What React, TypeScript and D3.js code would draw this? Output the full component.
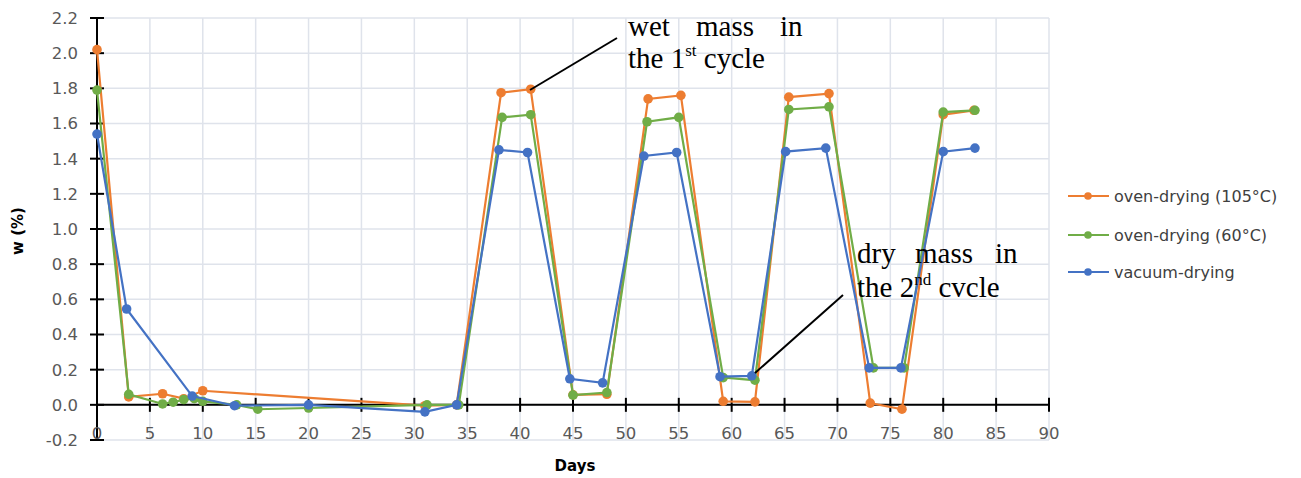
import React from "react";
import * as d3 from "d3";

const xTicks = [0, 5, 10, 15, 20, 25, 30, 35, 40, 45, 50, 55, 60, 65, 70, 75, 80, 85, 90];
const yTicks = [-0.2, 0, 0.2, 0.4, 0.6, 0.8, 1.0, 1.2, 1.4, 1.6, 1.8, 2.0, 2.2];

const orangeDays = [0, 3, 6.2, 8.2, 10, 31, 34, 38.2, 41, 45, 48.2, 52.1, 55.2, 59.2, 62.2, 65.4, 69.2, 73.1, 76.1, 80, 82.9];
const orangeW = [2.02, 0.045, 0.063, 0.035, 0.08, -0.005, 0.0, 1.775, 1.795, 0.057, 0.06, 1.74, 1.76, 0.02, 0.017, 1.75, 1.77, 0.01, -0.025, 1.65, 1.675];

const greenDays = [0, 3, 6.2, 7.2, 8.2, 9.2, 10, 13.2, 15.2, 20, 31.2, 34.2, 38.3, 41, 45, 48.2, 52, 55, 59.2, 62.2, 65.4, 69.2, 73.4, 76.3, 80, 83];
const greenW = [1.79, 0.06, 0.005, 0.015, 0.03, 0.035, 0.02, 0.0, -0.025, -0.018, 0.0, 0.0, 1.635, 1.65, 0.055, 0.07, 1.61, 1.635, 0.155, 0.14, 1.68, 1.695, 0.21, 0.21, 1.665, 1.675];

const blueDays = [0, 2.8, 9, 13, 20, 31, 34, 38, 40.7, 44.7, 47.8, 51.7, 54.8, 58.9, 61.9, 65.1, 68.9, 73, 76, 80, 83];
const blueW = [1.54, 0.545, 0.05, -0.005, 0.0, -0.04, 0.0, 1.45, 1.435, 0.148, 0.125, 1.415, 1.435, 0.16, 0.165, 1.44, 1.46, 0.21, 0.21, 1.44, 1.46];

const seriesNames = ["oven-drying (105°C)", "oven-drying (60°C)", "vacuum-drying"];
const seriesColors = ["#ED7D31", "#70AD47", "#4472C4"];

export default function App() {
  const x = d3.scaleLinear().domain([0, 90]).range([97, 1049]);
  const y = d3.scaleLinear().domain([-0.2, 2.2]).range([440, 18]);
  const series = [
    { days: orangeDays, w: orangeW },
    { days: greenDays, w: greenW },
    { days: blueDays, w: blueW },
  ];
  const line = d3
    .line<[number, number]>()
    .x((d) => x(d[0]))
    .y((d) => y(d[1]));
  const legendY = [196, 235, 272];
  const tickFont = "DejaVu Sans, Verdana, sans-serif";
  const serif = "Liberation Serif, Times New Roman, serif";

  return (
    <svg
      width={1301}
      height={478}
      style={{ position: "absolute", left: 0, top: 0, background: "#fff" }}
      xmlns="http://www.w3.org/2000/svg"
    >
      <rect x={0} y={0} width={1301} height={478} fill="#fff" />
      {/* grid */}
      {xTicks.map((t) => (
        <line key={"gx" + t} x1={x(t)} x2={x(t)} y1={y(2.2)} y2={y(-0.2)} stroke="#dfe3eb" strokeWidth={1.5} />
      ))}
      {yTicks.map((t) => (
        <line key={"gy" + t} x1={x(0)} x2={x(90)} y1={y(t)} y2={y(t)} stroke="#dfe3eb" strokeWidth={1.5} />
      ))}
      {/* axes */}
      <line x1={x(0)} x2={x(0)} y1={y(2.2)} y2={y(-0.2)} stroke="#000" strokeWidth={2} />
      <line x1={x(0)} x2={x(90)} y1={y(0)} y2={y(0)} stroke="#000" strokeWidth={2} />
      {yTicks.map((t) => (
        <line key={"ty" + t} x1={x(0) - 7} x2={x(0) + 7} y1={y(t)} y2={y(t)} stroke="#000" strokeWidth={2} />
      ))}
      {xTicks.map((t) => (
        <line key={"tx" + t} x1={x(t)} x2={x(t)} y1={y(0) - 7} y2={y(0) + 7} stroke="#000" strokeWidth={2} />
      ))}
      {yTicks.map((t) => (
        <text
          key={"ly" + t}
          x={78}
          y={y(t)}
          dy="0.36em"
          textAnchor="end"
          fontFamily={tickFont}
          fontSize={16.5}
          fill="#595959"
        >
          {t.toFixed(1)}
        </text>
      ))}
      {xTicks.map((t) => (
        <text
          key={"lx" + t}
          x={x(t)}
          y={439}
          textAnchor="middle"
          fontFamily={tickFont}
          fontSize={16.5}
          fill="#595959"
        >
          {t}
        </text>
      ))}
      {/* axis titles */}
      <text
        transform={`translate(23,231) rotate(-90)`}
        textAnchor="middle"
        fontFamily={tickFont}
        fontWeight="bold"
        fontSize={15}
        fill="#000"
      >
        w (%)
      </text>
      <text x={575} y={471} textAnchor="middle" fontFamily={tickFont} fontWeight="bold" fontSize={15} fill="#000">
        Days
      </text>
      {/* series */}
      {series.map((s, i) => {
        const pts: [number, number][] = s.days.map((d, j) => [d, s.w[j]]);
        return (
          <g key={"s" + i}>
            <path d={line(pts) || ""} fill="none" stroke={seriesColors[i]} strokeWidth={2.2} />
            {pts.map((p, j) => (
              <circle key={j} cx={x(p[0])} cy={y(p[1])} r={4.8} fill={seriesColors[i]} />
            ))}
          </g>
        );
      })}
      {/* annotations */}
      <line x1={530} y1={90} x2={617} y2={38} stroke="#000" strokeWidth={2} />
      <g fontFamily={serif} fontSize={29} fill="#000">
        <text x={628} y={36}>wet</text>
        <text x={696} y={36}>mass</text>
        <text x={780} y={36}>in</text>
        <text x={628} y={68}>
          the 1<tspan fontSize={17} dy={-12}>st</tspan>
          <tspan dy={12}> cycle</tspan>
        </text>
      </g>
      <line x1={755} y1={373} x2={843} y2={295} stroke="#000" strokeWidth={2} />
      <g fontFamily={serif} fontSize={29} fill="#000">
        <text x={857} y={263}>dry</text>
        <text x={915} y={263}>mass</text>
        <text x={995} y={263}>in</text>
        <text x={857} y={297}>
          the 2<tspan fontSize={17} dy={-12}>nd</tspan>
          <tspan dy={12}> cvcle</tspan>
        </text>
      </g>
      {/* legend */}
      {seriesNames.map((n, i) => (
        <g key={"lg" + i}>
          <line x1={1068} x2={1109} y1={legendY[i]} y2={legendY[i]} stroke={seriesColors[i]} strokeWidth={2} />
          <circle cx={1088} cy={legendY[i]} r={3.8} fill={seriesColors[i]} />
          <text x={1114} y={legendY[i]} dy="0.36em" fontFamily={tickFont} fontSize={16} fill="#404040">
            {n}
          </text>
        </g>
      ))}
    </svg>
  );
}
